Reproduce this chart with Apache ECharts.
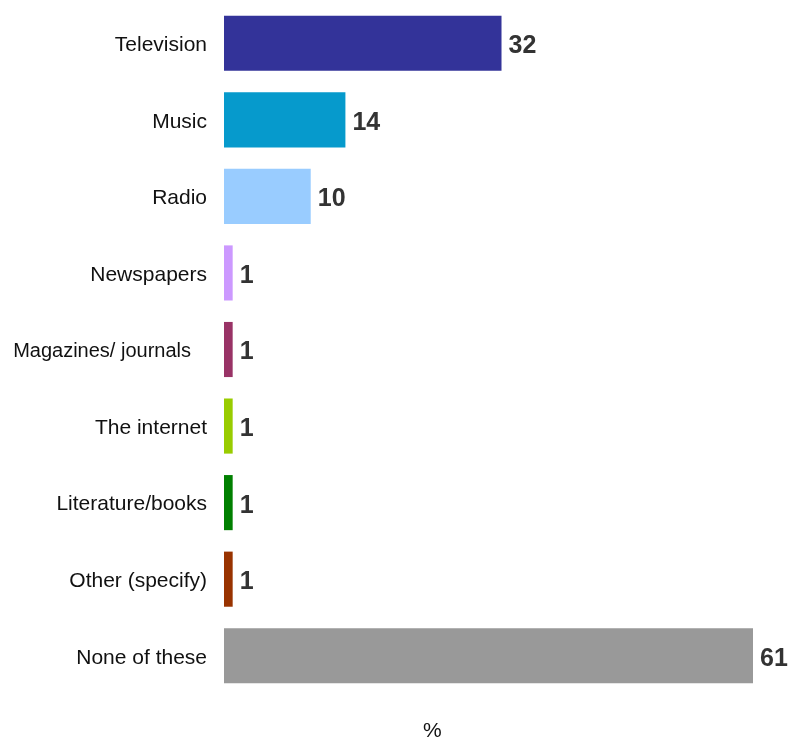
<!DOCTYPE html>
<html><head><meta charset="utf-8">
<script src="https://cdn.jsdelivr.net/npm/echarts@6/dist/echarts.min.js"></script>
<style>html,body{margin:0;padding:0;background:#fff}#c{width:788px;height:737px}</style>
</head><body><div id="c"></div>
<script>
const categories = ["Television","Music","Radio","Newspapers","Magazines/ journals","The internet","Literature/books","Other (specify)","None of these"];
const values = [32,14,10,1,1,1,1,1,61];
const colors = ["#333399","#069ACC","#99CCFF","#CC99FF","#993366","#99CC00","#008000","#993300","#999999"];
const axisTitle = "%";

const FONT = 'Liberation Sans, Arial, sans-serif';
const chart = echarts.init(document.getElementById('c'), null, {renderer:'canvas'});
chart.setOption({
  animation:false,
  grid:{left:224, top:5, width:529, height:689, containLabel:false},
  xAxis:{type:'value', min:0, max:61, show:true,
    axisLine:{show:false}, axisTick:{show:false}, axisLabel:{show:false}, splitLine:{show:false}},
  yAxis:{type:'category', inverse:true, data:categories,
    axisLine:{show:false}, axisTick:{show:false}, splitLine:{show:false},
    axisLabel:{color:'#111', fontFamily:FONT, fontSize:21, margin:17, padding:[4,0,0,0],
      formatter: v => v === 'Magazines/ journals' ? '{m|' + v + '}' : v,
      rich:{m:{fontFamily:FONT, fontSize:20, color:'#111', padding:[0,16,0,0]}}}},
  graphic:[{type:'text', left:423, top:721, style:{text:axisTitle, fontFamily:FONT, fontSize:21, fill:'#111'}}],
  series:[{type:'bar', barWidth:'72%',
    data: values.map((v,i)=>({value:v, itemStyle:{color:colors[i]}})),
    label:{show:true, position:'right', distance:7, offset:[0,3], color:'#333', fontWeight:'bold', fontFamily:FONT, fontSize:25}
  }]
});
</script></body></html>
